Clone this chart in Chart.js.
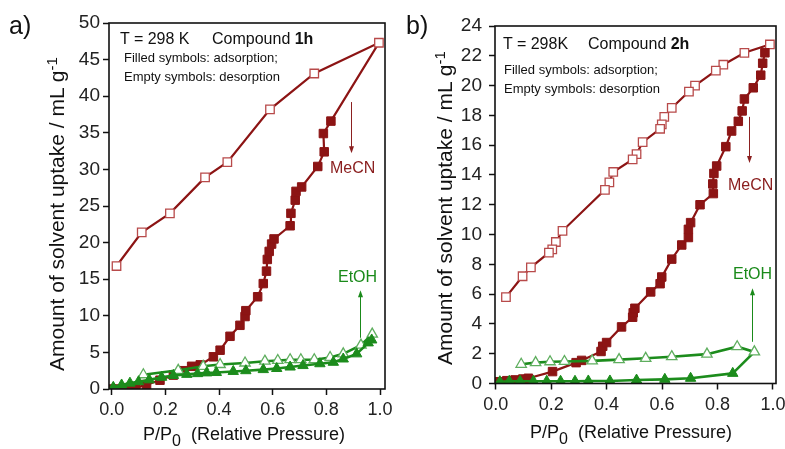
<!DOCTYPE html>
<html>
<head>
<meta charset="utf-8">
<script src="https://cdn.jsdelivr.net/npm/chart.js@4.4.1/dist/chart.umd.min.js"></script>
<style>
  html, body { margin: 0; padding: 0; background: #fff; overflow: hidden; }
  body { width: 785px; height: 449px; position: relative; font-family: "Liberation Sans", Arial, sans-serif; color: #111; }
  canvas { position: absolute; top: 0; }
  .t { position: absolute; white-space: nowrap; line-height: 1; }
  .ytitle { position: absolute; white-space: nowrap; line-height: 1; font-size: 21px; transform: rotate(-90deg); transform-origin: left top; }
  .ytitle sup { font-size: 15px; vertical-align: 7px; }
  .xtitle { position: absolute; white-space: nowrap; line-height: 1; font-size: 18px; }
  .xtitle sub { font-size: 16px; vertical-align: -6px; }
</style>
</head>
<body>
<canvas id="chartA" width="400" height="449" style="left:0"></canvas>
<canvas id="chartB" width="405" height="449" style="left:395px"></canvas>

<div class="t" style="left:9px;top:13px;font-size:25px">a)</div>
<div class="t" style="left:120px;top:31px;font-size:16px">T = 298 K</div>
<div class="t" style="left:212px;top:31px;font-size:16px">Compound <b>1h</b></div>
<div class="t" style="left:124px;top:51px;font-size:13px">Filled symbols: adsorption;</div>
<div class="t" style="left:124px;top:70px;font-size:13px">Empty symbols: desorption</div>
<div class="t" style="left:330px;top:160px;font-size:16px;color:#8b2020">MeCN</div>
<div class="t" style="left:338px;top:269px;font-size:16px;color:#1a8a1a">EtOH</div>
<div class="ytitle" style="left:44px;top:371px">Amount of solvent uptake / mL g<sup>-1</sup></div>
<div class="xtitle" style="left:143px;top:425px">P/P<sub>0</sub>&nbsp; (Relative Pressure)</div>

<div class="t" style="left:406px;top:13px;font-size:25px">b)</div>
<div class="t" style="left:503px;top:36px;font-size:16px">T = 298K</div>
<div class="t" style="left:588px;top:36px;font-size:16px">Compound <b>2h</b></div>
<div class="t" style="left:504px;top:63px;font-size:13px">Filled symbols: adsorption;</div>
<div class="t" style="left:504px;top:82px;font-size:13px">Empty symbols: desorption</div>
<div class="t" style="left:728px;top:177px;font-size:16px;color:#8b2020">MeCN</div>
<div class="t" style="left:733px;top:266px;font-size:16px;color:#1a8a1a">EtOH</div>
<div class="ytitle" style="left:432px;top:365px">Amount of solvent uptake / mL g<sup>-1</sup></div>
<div class="xtitle" style="left:530px;top:423px">P/P<sub>0</sub>&nbsp; (Relative Pressure)</div>

<script>
// ---- data: [P/P0, uptake mL/g] ----
// compound 1h
const mecnAds1h = [[0.00,0.0],[0.03,0.0],[0.06,0.05],[0.09,0.15],[0.13,0.6],[0.18,1.2],[0.23,1.9],[0.27,2.5],
  [0.298,3.1],[0.33,3.3],[0.379,4.4],[0.404,5.3],[0.441,7.2],[0.478,8.7],[0.497,9.9],[0.50,10.7],[0.544,12.6],
  [0.565,14.4],[0.577,16.1],[0.58,17.7],[0.587,18.8],[0.596,19.8],[0.605,20.5],[0.665,22.3],[0.668,24.0],
  [0.684,25.8],[0.687,27.0],[0.708,27.6],[0.768,30.4],[0.792,32.4],[0.789,34.9],[0.817,36.6]];
const mecnDes1h = [[0.996,47.3],[0.755,43.1],[0.59,38.2],[0.431,31.0],[0.348,28.9],[0.217,24.0],[0.112,21.4],[0.018,16.8]];
const etohAds1h = [[0.006,0.23],[0.037,0.55],[0.068,0.8],[0.10,1.0],[0.14,1.25],[0.186,1.6],[0.23,1.85],[0.28,2.0],
  [0.32,2.1],[0.354,2.2],[0.39,2.25],[0.453,2.4],[0.50,2.5],[0.565,2.65],[0.615,2.8],[0.665,3.0],[0.713,3.2],
  [0.776,3.45],[0.826,3.65],[0.863,4.1],[0.913,4.8],[0.956,6.3],[0.969,6.7]];
const etohDes1h = [[0.971,7.5],[0.929,6.0],[0.863,4.8],[0.814,4.3],[0.755,4.0],[0.705,4.0],[0.665,4.0],[0.619,3.9],
  [0.571,3.8],[0.497,3.55],[0.404,3.35],[0.341,3.1],[0.248,2.55],[0.118,1.95]];

// compound 2h
const mecnAds2h = [[0.01,0.12],[0.04,0.19],[0.07,0.24],[0.098,0.3],[0.118,0.35],[0.205,0.8],[0.29,1.4],[0.31,1.55],
  [0.38,2.15],[0.386,2.5],[0.40,2.75],[0.454,3.8],[0.494,4.45],[0.496,4.75],[0.502,5.05],[0.559,6.15],[0.593,6.7],
  [0.599,7.15],[0.635,8.35],[0.671,9.3],[0.695,9.8],[0.695,10.35],[0.703,10.8],[0.737,12.0],[0.785,12.75],
  [0.783,13.4],[0.787,14.1],[0.797,14.6],[0.83,15.9],[0.851,16.95],[0.875,17.6],[0.889,18.3],[0.897,19.1],
  [0.929,19.85],[0.956,20.7],[0.963,21.5],[0.971,22.2]];
const mecnDes2h = [[0.989,22.76],[0.897,22.2],[0.821,21.4],[0.794,21.0],[0.719,20.0],[0.697,19.6],[0.635,18.5],
  [0.608,17.9],[0.599,17.4],[0.593,17.1],[0.53,16.2],[0.508,15.4],[0.494,15.05],[0.424,14.2],[0.41,13.5],
  [0.394,13.0],[0.241,10.25],[0.217,9.5],[0.204,9.0],[0.192,8.78],[0.127,7.8],[0.097,7.2],[0.037,5.8]];
const etohAds2h = [[0.015,0.12],[0.049,0.15],[0.088,0.15],[0.136,0.15],[0.184,0.15],[0.234,0.15],[0.286,0.15],
  [0.334,0.17],[0.412,0.17],[0.508,0.23],[0.61,0.28],[0.703,0.35],[0.855,0.68]];
const etohDes2h = [[0.933,2.12],[0.871,2.47],[0.762,1.97],[0.635,1.8],[0.541,1.69],[0.445,1.6],[0.348,1.52],
  [0.248,1.48],[0.196,1.46],[0.144,1.4],[0.092,1.29]];

// ticks
const xTicks = [0, 0.2, 0.4, 0.6, 0.8, 1.0];
const xTickLabels = ['0.0', '0.2', '0.4', '0.6', '0.8', '1.0'];
const yTicks1h = [0, 5, 10, 15, 20, 25, 30, 35, 40, 45, 50];
const yTicks2h = [0, 2, 4, 6, 8, 10, 12, 14, 16, 18, 20, 22, 24];

const RED = '#8c1414';
const RED_OPEN = '#b84a4a';
const GREEN = '#1c8c1c';
const GREEN_OPEN = '#5fae5f';
const FONT = '"Liberation Sans", Arial, sans-serif';

const pts = (arr) => arr.map(([x, y]) => ({ x, y }));

// adsorption branch runs on into the first desorption point
function series(ads, des, color, openColor, style, radius, width) {
  const last = ads[ads.length - 1];
  return [
    {
      data: pts(ads), showLine: true, borderColor: color, backgroundColor: color,
      borderWidth: width, pointStyle: style, pointRadius: radius, pointBorderWidth: 1,
      pointBorderColor: color, pointBackgroundColor: color
    },
    {
      data: pts([last, ...des]), showLine: true, borderColor: color, backgroundColor: '#fff',
      borderWidth: width, pointStyle: style,
      pointRadius: (c) => (c.dataIndex === 0 ? 0 : radius),
      pointBorderWidth: 1.3, pointBorderColor: openColor, pointBackgroundColor: '#fff'
    }
  ];
}

const framePlugin = {
  id: 'frame',
  afterDraw(chart, args, opts) {
    const { ctx, chartArea: a, scales } = chart;
    ctx.save();
    ctx.strokeStyle = '#111';
    ctx.lineWidth = 1.6;
    ctx.strokeRect(a.left, a.top, a.right - a.left, a.bottom - a.top);
    (opts.arrows || []).forEach((ar) => {
      const px = Math.round(scales.x.getPixelForValue(ar.x)) + 0.5;
      const y0 = scales.y.getPixelForValue(ar.from);
      const y1 = scales.y.getPixelForValue(ar.to);
      const dir = y1 > y0 ? 1 : -1;
      ctx.strokeStyle = ar.color;
      ctx.fillStyle = ar.color;
      ctx.lineWidth = 1;
      ctx.beginPath();
      ctx.moveTo(px, y0);
      ctx.lineTo(px, y1 - dir * 6);
      ctx.stroke();
      ctx.beginPath();
      ctx.moveTo(px, y1);
      ctx.lineTo(px - 2.5, y1 - dir * 7);
      ctx.lineTo(px + 2.5, y1 - dir * 7);
      ctx.closePath();
      ctx.fill();
    });
    ctx.restore();
  }
};

function makeChart(canvas, cfg) {
  return new Chart(canvas, {
    type: 'scatter',
    data: {
      datasets: [
        ...series(cfg.etohAds, cfg.etohDes, GREEN, GREEN_OPEN, 'triangle', 6, 2.6),
        ...series(cfg.mecnAds, cfg.mecnDes, RED, RED_OPEN, 'rect', 6, 2.2)
      ]
    },
    options: {
      responsive: false,
      devicePixelRatio: 1,
      animation: false,
      layout: { padding: cfg.padding },
      plugins: {
        legend: { display: false },
        tooltip: { enabled: false },
        frame: { arrows: cfg.arrows }
      },
      scales: {
        x: {
          type: 'linear', min: cfg.xMin, max: cfg.xMax,
          afterBuildTicks: (s) => { s.ticks = xTicks.map((v) => ({ value: v })); },
          afterFit: (s) => { s.height = cfg.xHeight; },
          border: { display: false },
          grid: { drawOnChartArea: false, drawTicks: true, tickLength: 6, tickColor: '#111', tickWidth: 1.5 },
          ticks: {
            padding: cfg.xPad, color: '#222', font: { family: FONT, size: 18 },
            maxRotation: 0, callback: (v, i) => xTickLabels[i]
          }
        },
        y: {
          type: 'linear', min: 0, max: cfg.yMax,
          afterBuildTicks: (s) => { s.ticks = cfg.yTicks.map((v) => ({ value: v })); },
          afterFit: (s) => { s.width = cfg.yWidth; },
          border: { display: false },
          grid: { drawOnChartArea: false, drawTicks: true, tickLength: 6, tickColor: '#111', tickWidth: 1.5 },
          ticks: {
            padding: cfg.yPad, color: '#222', font: { family: FONT, size: 19 },
            callback: (v, i) => String(cfg.yTicks[i])
          }
        }
      }
    },
    plugins: [framePlugin]
  });
}

makeChart(document.getElementById('chartA'), {
  mecnAds: mecnAds1h, mecnDes: mecnDes1h, etohAds: etohAds1h, etohDes: etohDes1h,
  xMin: -0.01, xMax: 1.0186, yMax: 50, yTicks: yTicks1h,
  padding: { top: 23, right: 15, bottom: 0, left: 0 },
  yWidth: 109, xHeight: 60, xPad: 4, yPad: 3,
  arrows: [
    { x: 0.892, from: 39.2, to: 32.2, color: '#8b2020' },
    { x: 0.925, from: 7.0, to: 13.5, color: '#1a8a1a' }
  ]
});

makeChart(document.getElementById('chartB'), {
  mecnAds: mecnAds2h, mecnDes: mecnDes2h, etohAds: etohAds2h, etohDes: etohDes2h,
  xMin: -0.0025, xMax: 1.011, yMax: 24, yTicks: yTicks2h,
  padding: { top: 26, right: 24, bottom: 0, left: 0 },
  yWidth: 100, xHeight: 65.5, xPad: 5, yPad: 7,
  arrows: [
    { x: 0.915, from: 17.9, to: 14.8, color: '#8b2020' },
    { x: 0.925, from: 2.8, to: 6.4, color: '#1a8a1a' }
  ]
});
</script>
</body>
</html>
